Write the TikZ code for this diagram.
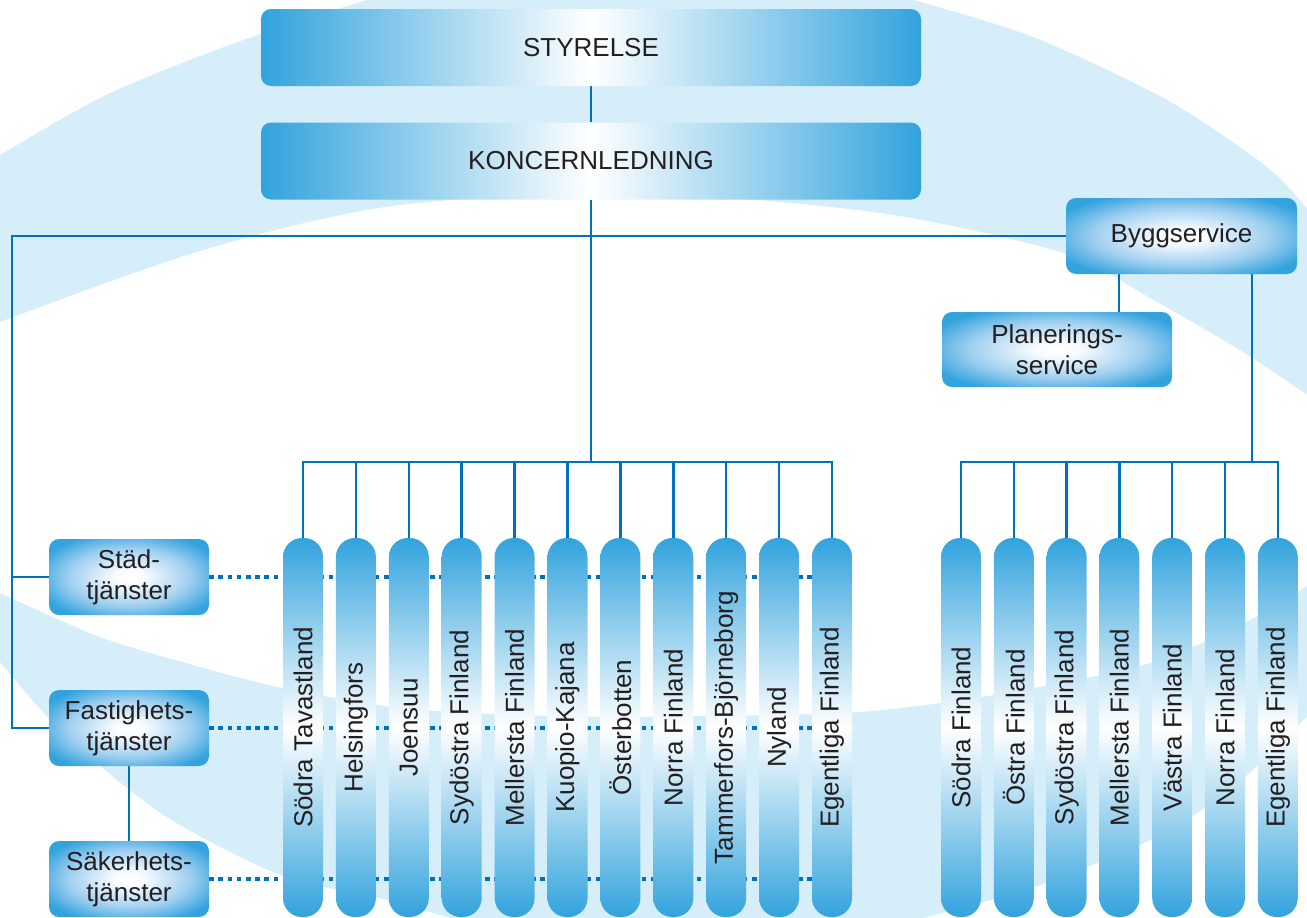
\documentclass[tikz,border=0pt]{standalone}
\usepackage{fontspec}
\setmainfont{Liberation Sans}
\definecolor{boxblue}{RGB}{50,163,221}
\definecolor{lineblue}{RGB}{0,114,188}
\definecolor{bgblue}{RGB}{214,237,250}
\definecolor{txt}{RGB}{35,31,32}
\pgfdeclareradialshading{boxglow}{\pgfpoint{0bp}{0bp}}{rgb(0bp)=(1,1,1); rgb(5bp)=(0.97,0.985,1); rgb(19bp)=(0.62,0.81,0.94); rgb(30bp)=(0.196,0.639,0.867); rgb(50bp)=(0.196,0.639,0.867)}
\pgfdeclarelayer{back}
\pgfdeclarelayer{lines}
\pgfsetlayers{back,lines,main}
\begin{document}
\begin{tikzpicture}[x=1pt,y=-1pt,
  every node/.style={text=txt, font=\fontsize{26}{31}\selectfont},
  hbox/.style={rounded corners=10pt, minimum width=660pt, minimum height=77pt, inner sep=0pt,
    left color=boxblue, right color=boxblue, middle color=white},
  gbox/.style={rounded corners=10pt, inner sep=0pt, shade, shading=boxglow, align=center},
  vbar/.style={rotate=90, rounded corners=19pt, minimum width=379pt, minimum height=40pt, inner sep=0pt,
    top color=boxblue, bottom color=boxblue, middle color=white},
  conn/.style={draw=lineblue, line width=2.5pt},
  dotline/.style={draw=lineblue, line width=4.6pt, dash pattern=on 4.6pt off 4.6pt}
]
\useasboundingbox (0,0) rectangle (1307,918);

% boxes
\node[hbox] (sty) at (591,47.5) {STYRELSE};
\node[hbox] (kon) at (591,161) {KONCERNLEDNING};
\node[gbox, minimum width=231pt, minimum height=76pt] (byg) at (1181.5,236) {Byggservice};
\node[gbox, minimum width=230pt, minimum height=75pt] (pla) at (1057,349.5) {Planerings-\\service};
\node[gbox, minimum width=160pt, minimum height=76pt] (sta) at (129,577) {Städ-\\tjänster};
\node[gbox, minimum width=160pt, minimum height=76pt] (fas) at (129,728) {Fastighets-\\tjänster};
\node[gbox, minimum width=160pt, minimum height=76pt] (sak) at (129,879) {Säkerhets-\\tjänster};

\foreach \lab [count=\i] in {Södra Tavastland, Helsingfors, Joensuu, Sydöstra Finland, Mellersta Finland, Kuopio-Kajana, Österbotten, Norra Finland, Tammerfors-Björneborg, Nyland, Egentliga Finland}
  \node[vbar] (l\i) at ({303+52.9*(\i-1)},727.5) {\lab};
\foreach \lab [count=\i] in {Södra Finland, Östra Finland, Sydöstra Finland, Mellersta Finland, Västra Finland, Norra Finland, Egentliga Finland}
  \node[vbar] (r\i) at ({961+52.8*(\i-1)},727.5) {\lab};

% background swoosh
\begin{pgfonlayer}{back}
\begin{scope}
\clip (0,0) rectangle (1307,918);
\fill[bgblue] plot[smooth] coordinates {(0,155) (100,98) (200,56) (290,24) (367,0)} -- (913,0)
  -- plot[smooth] coordinates {(913,0) (1033,37) (1167,100) (1267,167) (1307,209)} -- (1307,395)
  -- plot[smooth] coordinates {(1307,395) (1243,352) (1150,298) (1067,254) (900,216) (730,198) (560,193) (400,205) (300,224) (200,251) (100,285) (0,322)} -- cycle;
\fill[bgblue] plot[smooth] coordinates {(0,593) (100,637) (200,667) (283,688) (400,708) (550,716) (700,716) (860,712) (1000,694) (1150,663) (1250,620) (1307,586)}
  -- (1307,716)
  -- plot[smooth] coordinates {(1307,716) (1230,790) (1150,840) (1040,885) (927,917) (850,935) (700,950) (560,945) (440,915) (380,898) (283,876) (167,817) (67,737) (0,662)} -- cycle;
\end{scope}
\end{pgfonlayer}

% connectors
\begin{pgfonlayer}{lines}
\coordinate (busL) at (0,462);
\coordinate (lc) at (12,236);
\draw[conn] (sty.south) -- (kon.north);
\draw[conn] (kon.south) -- (kon.south |- busL);
\draw[conn] (l1.east) -- (l1.east |- busL) -- (l11.east |- busL) -- (l11.east);
\foreach \i in {2,...,10} \draw[conn] (l\i.east) -- (l\i.east |- busL);
\draw[conn] (r1.east) -- (r1.east |- busL) -- (r7.east |- busL) -- (r7.east);
\foreach \i in {2,...,6} \draw[conn] (r\i.east) -- (r\i.east |- busL);
\draw[conn] (byg.west) -- (lc) -- (lc |- fas.west) -- (fas.west);
\draw[conn] (lc |- sta.west) -- (sta.west);
\draw[conn] (fas.south) -- (sak.north);
\draw[conn] ([xshift=-62.5pt]byg.south) -- ([xshift=-62.5pt]byg.south |- pla.north);
\draw[conn] ([xshift=70.5pt]byg.south) -- ([xshift=70.5pt]byg.south |- busL);
\draw[dotline] (sta.east) -- (sta.east -| l11);
\draw[dotline] (fas.east) -- (fas.east -| l11);
\draw[dotline] (sak.east) -- (sak.east -| l11);
\end{pgfonlayer}
\end{tikzpicture}
\end{document}
